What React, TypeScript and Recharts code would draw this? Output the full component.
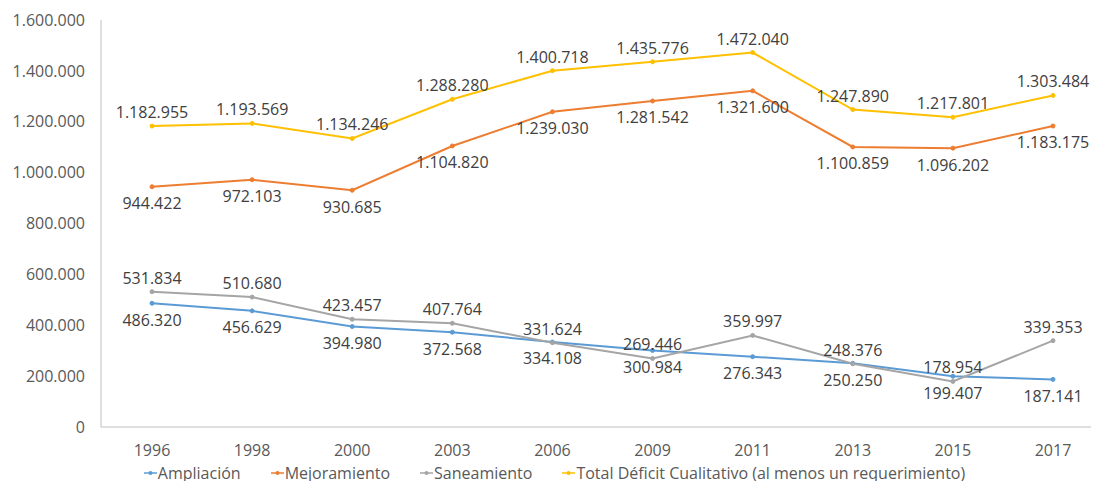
import React from "react";
import { LineChart, Line, XAxis, YAxis, Legend, LabelList } from "recharts";

const years = ["1996", "1998", "2000", "2003", "2006", "2009", "2011", "2013", "2015", "2017"];
const ampliacion = [486320, 456629, 394980, 372568, 334108, 300984, 276343, 250250, 199407, 187141];
const mejoramiento = [944422, 972103, 930685, 1104820, 1239030, 1281542, 1321600, 1100859, 1096202, 1183175];
const saneamiento = [531834, 510680, 423457, 407764, 331624, 269446, 359997, 248376, 178954, 339353];
const totalDeficit = [1182955, 1193569, 1134246, 1288280, 1400718, 1435776, 1472040, 1247890, 1217801, 1303484];
const yTicks = [0, 200000, 400000, 600000, 800000, 1000000, 1200000, 1400000, 1600000];

const data = years.map((year, i) => ({
  year,
  ampliacion: ampliacion[i],
  mejoramiento: mejoramiento[i],
  saneamiento: saneamiento[i],
  total: totalDeficit[i],
}));

const FONT = "'Open Sans', sans-serif";

const series = [
  { key: "ampliacion", name: "Ampliación", color: "#5B9BD5", labelPos: "bottom" },
  { key: "mejoramiento", name: "Mejoramiento", color: "#ED7D31", labelPos: "bottom" },
  { key: "saneamiento", name: "Saneamiento", color: "#A5A5A5", labelPos: "top" },
  { key: "total", name: "Total Déficit Cualitativo (al menos un requerimiento)", color: "#FFC000", labelPos: "top" },
];

const fmt = (v: number) => String(Math.round(v)).replace(/\B(?=(\d{3})+(?!\d))/g, ".");

const renderLegend = () => (
  <div
    style={{
      display: "flex",
      justifyContent: "center",
      gap: 30,
      fontFamily: FONT,
      fontSize: 16,
      lineHeight: "20px",
      height: 20,
      color: "#595959",
      paddingLeft: 6,
    }}
  >
    {series.map((s) => (
      <span key={s.key} style={{ display: "inline-flex", alignItems: "center" }}>
        <svg width={13} height={10} style={{ marginRight: 1 }}>
          <line x1={0} y1={5} x2={13} y2={5} stroke={s.color} strokeWidth={1.5} />
          <circle cx={6.5} cy={5} r={2} fill={s.color} />
        </svg>
        <span>{s.name}</span>
      </span>
    ))}
  </div>
);

export default function App() {
  return (
    <div style={{ margin: -8, width: 1099, height: 489, overflow: "hidden", background: "#fff" }}>
      <LineChart width={1104} height={489} data={data} margin={{ top: 20, right: 1, bottom: 0, left: 0 }}>
        <XAxis
          dataKey="year"
          interval={0}
          height={42}
          padding={{ left: 51, right: 50 }}
          tickLine={false}
          tickSize={6}
          tickMargin={12}
          axisLine={{ stroke: "#BFBFBF" }}
          tick={{ fill: "#595959", fontSize: 16, fontFamily: FONT }}
        />
        <YAxis
          width={101}
          domain={[0, 1600000]}
          ticks={yTicks}
          tickFormatter={fmt}
          tickLine={false}
          tickSize={6}
          tickMargin={10}
          axisLine={{ stroke: "#BFBFBF" }}
          tick={{ fill: "#595959", fontSize: 16, fontFamily: FONT }}
        />
        <Legend verticalAlign="bottom" height={20} content={renderLegend} wrapperStyle={{ bottom: 6 }} />
        {series.map((s) => (
          <Line
            key={s.key}
            dataKey={s.key}
            name={s.name}
            stroke={s.color}
            strokeWidth={2}
            dot={{ r: 2, fill: s.color, stroke: s.color, strokeWidth: 1 }}
            isAnimationActive={false}
          >
            <LabelList
              dataKey={s.key}
              position={s.labelPos as "top" | "bottom"}
              offset={s.labelPos === "top" ? 8 : 11}
              formatter={(v: any) => fmt(Number(v))}
              style={{ fill: "#404040", fontSize: 16, fontFamily: FONT }}
            />
          </Line>
        ))}
      </LineChart>
    </div>
  );
}
